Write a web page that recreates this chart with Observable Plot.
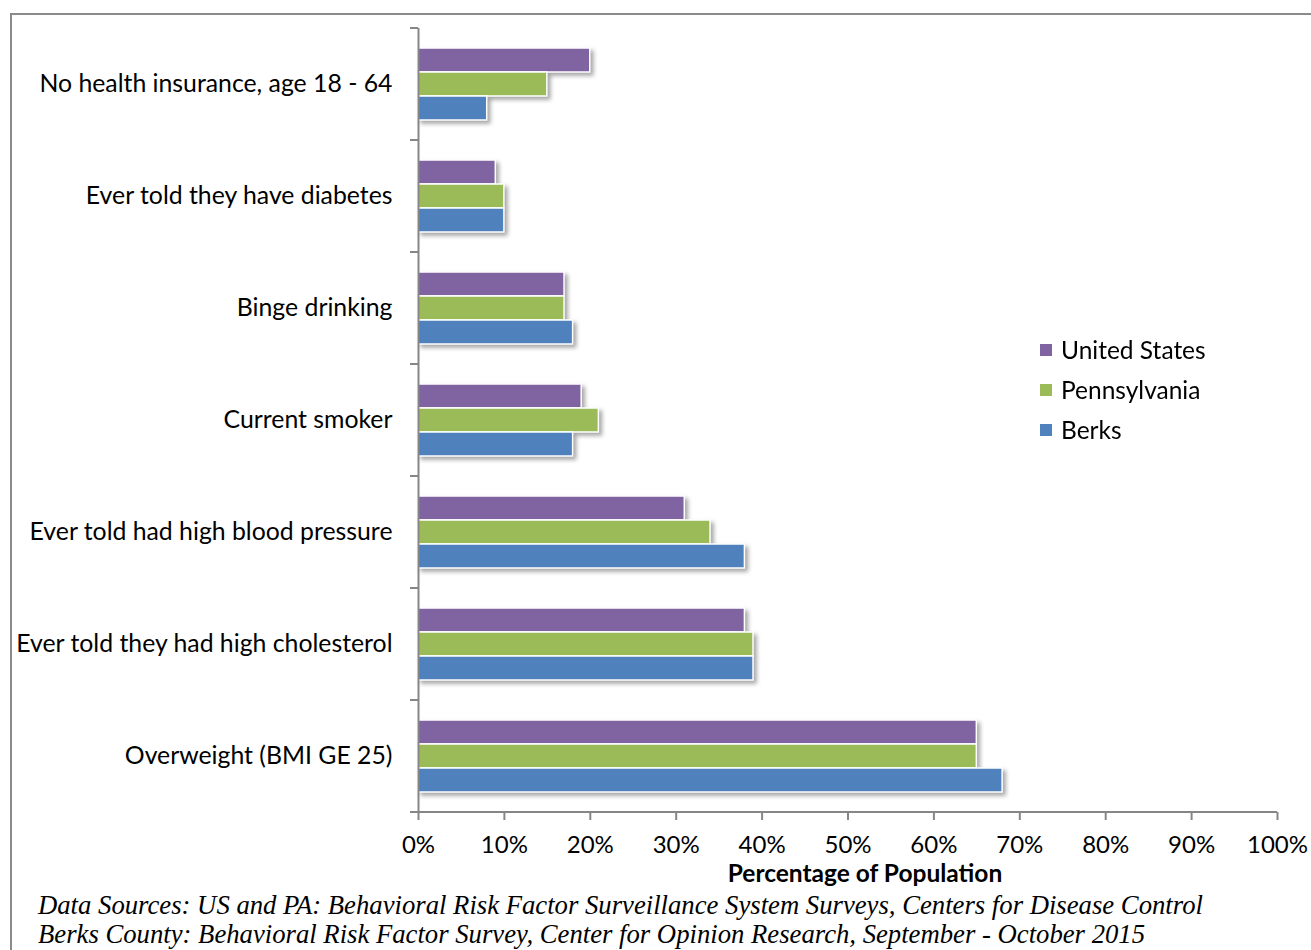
<!DOCTYPE html>
<html><head><meta charset="utf-8">
<script src="https://cdn.jsdelivr.net/npm/d3@7"></script>
<script src="https://cdn.jsdelivr.net/npm/@observablehq/plot@0.6"></script>
<style>
body{margin:0;background:#fff;overflow:hidden;width:1311px;height:950px;}
#wrap{position:relative;width:1311px;height:950px;overflow:hidden;}
#box{position:absolute;left:10px;top:13px;width:1400px;height:1000px;border:2px solid #8a8a8a;box-sizing:border-box;}
#chart{position:absolute;left:0;top:0;}
#xtitle{position:absolute;left:0;width:1730px;top:858px;line-height:30px;text-align:center;font:bold 24.5px Lato, sans-serif;color:#000;}
#legend{position:absolute;left:1040px;top:335px;font:24.5px Lato, sans-serif;color:#000;}
#legend .item{height:40px;line-height:30px;display:flex;align-items:flex-start;}
#legend .sw{width:12px;height:12px;margin-top:9px;margin-right:9px;}
#caption{position:absolute;left:38px;top:891px;font:italic 26.7px "Liberation Serif", "Times New Roman", serif;line-height:29px;color:#000;white-space:nowrap;}
</style></head>
<body><div id="wrap"><div id="box"></div><div id="chart"></div>
<div id="xtitle"></div><div id="legend"></div><div id="caption"></div></div>
<script>
const categories = ["No health insurance, age 18 - 64", "Ever told they have diabetes", "Binge drinking", "Current smoker", "Ever told had high blood pressure", "Ever told they had high cholesterol", "Overweight (BMI GE 25)"];
const series = ["United States", "Pennsylvania", "Berks"];
const usValues = [20, 9, 17, 19, 31, 38, 65];
const paValues = [15, 10, 17, 21, 34, 39, 65];
const berksValues = [8, 10, 18, 18, 38, 39, 68];
const colors = ["#8064A2", "#9BBB59", "#4F81BD"];
const xTicks = [0, 10, 20, 30, 40, 50, 60, 70, 80, 90, 100];
const xTitle = "Percentage of Population";
const captionLines = ["Data Sources: US and PA: Behavioral Risk Factor Surveillance System Surveys, Centers for Disease Control",
  "Berks County: Behavioral Risk Factor Survey, Center for Opinion Research, September - October 2015"];

const valueSets = [usValues, paValues, berksValues];
const rows = categories.flatMap((c, i) => series.map((s, j) => ({category: c, series: s, value: valueSets[j][i]})));

const axisGray = "#868686";
const plot = Plot.plot({
  width: 1311, height: 890,
  marginLeft: 418, marginRight: 34, marginTop: 28, marginBottom: 78,
  style: {fontFamily: "Lato, sans-serif", fontSize: "24px", color: "#000", background: "transparent", overflow: "visible"},
  x: {domain: [0, 100]},
  y: {domain: series, paddingInner: 0, paddingOuter: 0.77, axis: null},
  fy: {domain: categories, padding: 0},
  color: {domain: series, range: colors},
  marks: [
    Plot.barX(rows, {x: "value", y: "series", fy: "category", fill: "series", stroke: "white", strokeWidth: 1.5}),
    Plot.ruleX([0], {stroke: axisGray, strokeWidth: 2}),
    Plot.axisX({ticks: xTicks, tickFormat: d => d + "%", tickSize: 8, tickPadding: 15, stroke: axisGray, strokeWidth: 2, label: null, fontSize: 24, fill: "#000"}),
    Plot.axisFy({anchor: "left", tickSize: 0, tickPadding: 26, label: null, fontSize: 24.8, fill: "#000"})
  ]
});
document.getElementById("chart").appendChild(plot);

// shadows on bars
d3.select(plot).selectAll('g[aria-label="bar"]').style("filter", "drop-shadow(3px 3px 2px rgba(0,0,0,0.35))");

// category boundary ticks and x baseline from the scales
const fys = plot.scale("fy"), xs = plot.scale("x");
const x0 = xs.apply(0), x1 = xs.apply(100);
const bounds = fys.domain.map(d => fys.apply(d));
bounds.push(bounds[bounds.length - 1] + fys.bandwidth);
const g = d3.select(plot).append("g").attr("stroke", axisGray).attr("stroke-width", 2);
g.selectAll("line.b").data(bounds).join("line").attr("x1", x0 - 8).attr("x2", x0).attr("y1", d => d).attr("y2", d => d);
g.append("line").attr("x1", x0).attr("x2", x1).attr("y1", bounds[bounds.length - 1]).attr("y2", bounds[bounds.length - 1]);

document.getElementById("xtitle").textContent = xTitle;
const leg = d3.select("#legend");
series.forEach((s, i) => {
  const it = leg.append("div").attr("class", "item");
  it.append("div").attr("class", "sw").style("background", colors[i]);
  it.append("span").text(s);
});
d3.select("#caption").selectAll("div").data(captionLines).join("div").text(d => d);
</script></body></html>
